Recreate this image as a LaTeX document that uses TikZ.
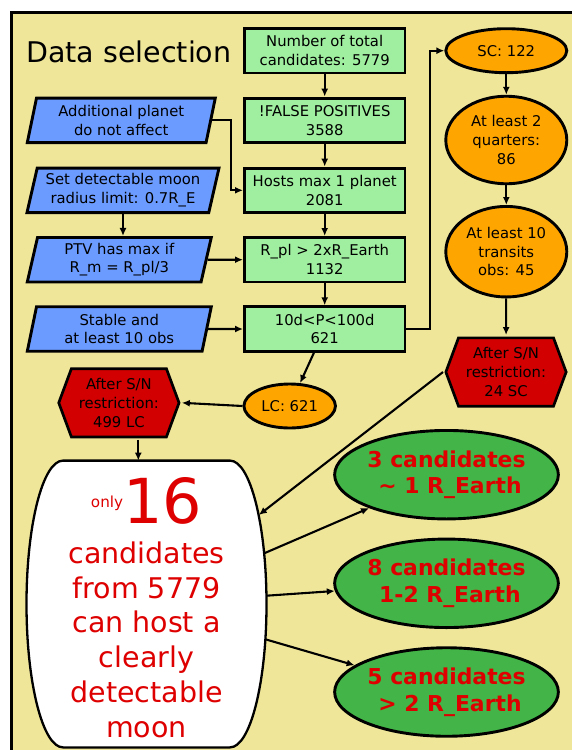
\documentclass[tikz,border=0pt]{standalone}
\usepackage{fontspec}
\setmainfont{DejaVu Sans}
\usetikzlibrary{shapes.geometric,arrows.meta}
\definecolor{bgyellow}{RGB}{240,230,154}
\definecolor{boxgreen}{RGB}{160,238,160}
\definecolor{ioblue}{RGB}{107,155,255}
\definecolor{countorange}{RGB}{255,165,0}
\definecolor{hexred}{RGB}{210,0,0}
\definecolor{resgreen}{RGB}{66,180,72}
\definecolor{txtred}{RGB}{222,0,0}
\tikzset{
  base/.style={align=center, inner sep=0pt, font=\fontsize{14.8}{18.7}\selectfont, line width=2.9pt},
  proc/.style={base, draw, fill=boxgreen, minimum width=160.5pt, minimum height=44.5pt},
  io/.style={base, draw, fill=ioblue, trapezium, trapezium left angle=73, trapezium right angle=107, trapezium stretches body, minimum height=44.5pt},
  count/.style={base, draw, ellipse, fill=countorange, minimum width=121pt},
  hexbox/.style={base, minimum width=123pt, minimum height=71pt,
    path picture={\draw[line width=2.7pt, fill=hexred]
      ([xshift=1.35pt]path picture bounding box.west)
      -- ([xshift=14pt,yshift=-1.35pt]path picture bounding box.north west)
      -- ([xshift=-14pt,yshift=-1.35pt]path picture bounding box.north east)
      -- ([xshift=-1.35pt]path picture bounding box.east)
      -- ([xshift=-14pt,yshift=1.35pt]path picture bounding box.south east)
      -- ([xshift=14pt,yshift=1.35pt]path picture bounding box.south west) -- cycle;}},
  result/.style={draw, ellipse, fill=resgreen, line width=2.9pt, inner sep=0pt, minimum width=219.5pt, minimum height=88.5pt,
    align=center, text=txtred, font=\fontsize{21.9}{26.7}\selectfont\bfseries},
  bigtext/.style={align=center, inner sep=0pt, text=txtred, font=\fontsize{28.5}{34.8}\selectfont},
  arr/.style={-{Latex[length=8pt,width=7pt]}, line width=2.1pt}
}
\begin{document}
\begin{tikzpicture}[x=1pt, y=-1pt]
\useasboundingbox (0,0) rectangle (571,750);
\draw [line width=2.6pt, fill=bgyellow] (11.4,12.2) rectangle (590,770);
\node [font=\fontsize{28.5}{34}\selectfont, anchor=base] (title) at (128.9,62.7) {Data selection};

\node [proc] (total) at (324.7,50.7) {Number of total\\candidates: 5779};
\node [proc] (nofp) at (324.7,120.3) {!FALSE POSITIVES\\3588};
\node [proc] (hosts) at (324.7,190.3) {Hosts max 1 planet\\2081};
\node [proc] (rpl) at (324.7,259.7) {R\_pl > 2xR\_Earth\\1132};
\node [proc] (period) at (324.7,329) {10d<P<100d\\621};

\node [io, minimum width=188pt] (addpl) at (121.3,120.3) {Additional planet\\do not affect};
\node [io, minimum width=192pt] (limit) at (123,190.3) {Set detectable moon\\radius limit: 0.7R\_E};
\node [io, minimum width=184pt] (ptv) at (119.3,259.7) {PTV has max if\\R\_m = R\_pl/3};
\node [io, minimum width=184pt] (stable) at (119.3,329) {Stable and\\at least 10 obs};

\node [count, minimum height=44pt] (sc) at (506.3,50.7) {SC: 122};
\node [count, minimum height=87.5pt] (quart) at (506.3,140) {At least 2\\quarters:\\86};
\node [count, minimum height=90.5pt] (trans) at (506.3,251.7) {At least 10\\transits\\obs: 45};
\node [hexbox] (snsc) at (506,372) {After S/N\\restriction:\\24 SC};
\node [count, minimum width=91.5pt, minimum height=44pt] (lc) at (289.7,406) {LC: 621};
\node [hexbox] (snlc) at (118.9,402.8) {After S/N\\restriction:\\499 LC};

\draw [line width=2.3pt, fill=white] (63,460.6) -- (230,460.6)
  arc [start angle=90, end angle=-90, x radius=36.5pt, y radius=143.4pt] -- (63,747.4)
  arc [start angle=-90, end angle=-270, x radius=36.5pt, y radius=143.4pt] -- cycle;
\node [bigtext] (final) at (146.5,607.6) {\raisebox{16pt}{\fontsize{15.2}{15}\selectfont only}{\fontsize{62}{62}\selectfont 16}\\[4.9pt]
  candidates\\from 5779\\can host a\\clearly\\detectable\\moon};
\coordinate (ftop) at (138.3,460.6);
\coordinate (fin) at (258.8,515);
\coordinate (fout1) at (264.2,553.3);
\coordinate (fout2) at (266.4,595.7);
\coordinate (fout3) at (265.4,639.3);

\node [result] (small) at (446.5,474.7) {3 candidates\\\hspace*{7pt}\textasciitilde{} 1 R\_Earth};
\node [result] (mid) at (446.5,583.3) {8 candidates\\\hspace*{7pt}1-2 R\_Earth};
\node [result] (large) at (446.5,692) {5 candidates\\\hspace*{7pt}> 2 R\_Earth};

\draw [arr] (total) -- (nofp);
\draw [arr] (nofp) -- (hosts);
\draw [arr] (hosts) -- (rpl);
\draw [arr] (rpl) -- (period);
\draw [arr] (addpl.east) -- ++(19,0) |- (hosts.west);
\draw [arr] (limit.center |- limit.south) -- (limit.center |- ptv.north);
\draw [arr] (ptv.east) -- (rpl.west);
\draw [arr] (stable.east) -- (period.west);
\draw [arr] (period.east) -- ++(23.5,0) |- (sc.west);
\draw [arr] (period) -- (lc);
\draw [arr] (lc.west) -- (snlc.east);
\draw [arr] (snlc.south -| ftop) -- (ftop);
\draw [arr] (sc) -- (quart);
\draw [arr] (quart) -- (trans);
\draw [arr] (trans) -- (snsc);
\draw [arr] (snsc.west) -- (fin);
\draw [arr] (fout1) -- (small);
\draw [arr] (fout2) -- (mid);
\draw [arr] (fout3) -- (large);
\end{tikzpicture}
\end{document}
